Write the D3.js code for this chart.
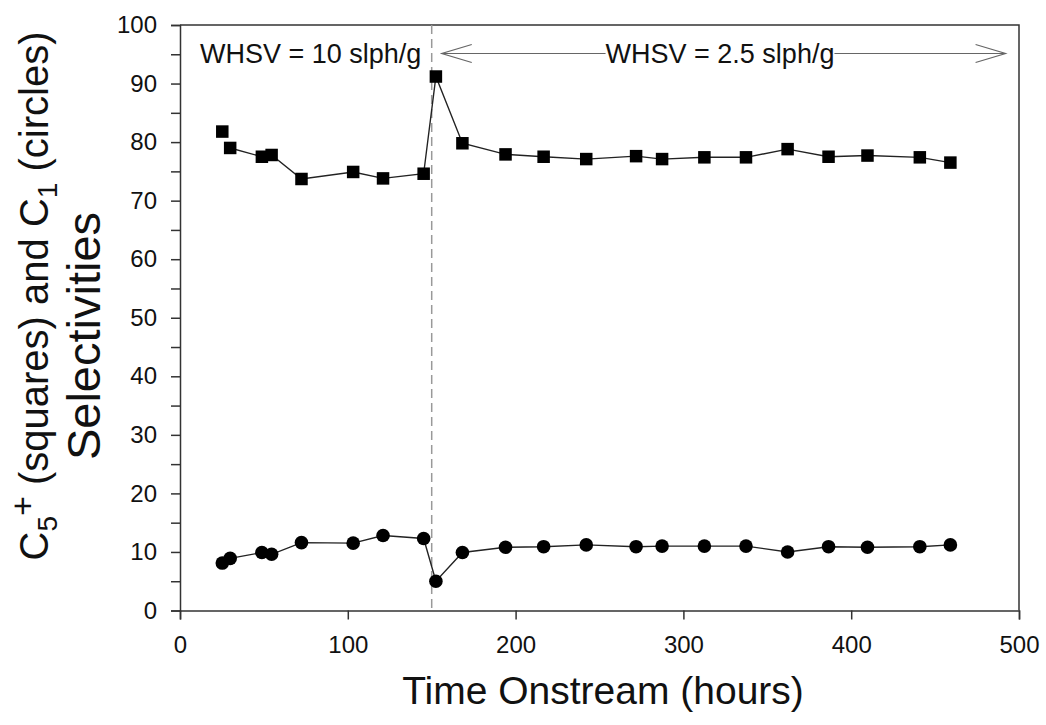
<!DOCTYPE html>
<html>
<head>
<meta charset="utf-8">
<script src="https://cdn.jsdelivr.net/npm/d3@7"></script>
<style>
  body { margin: 0; background: #fff; }
  text { font-family: "Liberation Sans", Arial, sans-serif; fill: #111; }
</style>
</head>
<body>
<div id="chart"></div>
<script>
// data
var hours = [25.2, 29.9, 48.8, 54.6, 72.4, 103.2, 121.0, 145.2, 152.5, 168.3, 194.0, 216.7,
             242.1, 271.8, 287.3, 312.5, 337.3, 362.1, 386.5, 409.7, 440.9, 459.1];
var c5plus = [81.8, 79.0, 77.5, 77.8, 73.7, 74.9, 73.8, 74.6, 91.2, 79.8, 77.9, 77.5,
              77.1, 77.6, 77.1, 77.4, 77.4, 78.8, 77.5, 77.7, 77.4, 76.5];
var c1 = [8.1, 8.9, 9.9, 9.6, 11.6, 11.5, 12.8, 12.3, 5.0, 9.9, 10.8, 10.9,
          11.2, 10.9, 11.0, 11.0, 11.0, 10.0, 10.9, 10.8, 10.9, 11.2];
var xTicks = [0, 100, 200, 300, 400, 500];
var yTicks = [0, 10, 20, 30, 40, 50, 60, 70, 80, 90, 100];
var switchHour = 150;
var labelLow = "WHSV = 10 slph/g";
var labelHigh = "WHSV = 2.5 slph/g";

var margin = {top: 25, right: 27, bottom: 114.5, left: 180},
    width = 1046 - margin.left - margin.right,
    height = 725 - margin.top - margin.bottom;

var svg = d3.select("#chart")
  .append("svg")
    .attr("width", 1046)
    .attr("height", 725);

var g = svg.append("g")
    .attr("transform", "translate(" + margin.left + "," + margin.top + ")");

var x = d3.scaleLinear().domain([0, 500]).range([0, width]);
var y = d3.scaleLinear().domain([0, 100]).range([height, 0]);

// frame (top and right)
g.append("path")
  .attr("d", "M0,0H" + width + "V" + height)
  .attr("fill", "none")
  .attr("stroke", "#333")
  .attr("stroke-width", 1.5);

// y axis with minor ticks
var yMinor = d3.range(5, 100, 10);
g.append("g")
  .call(d3.axisLeft(y).tickValues(yMinor).tickSize(9).tickFormat(""))
  .call(function(s) { s.select(".domain").remove(); })
  .selectAll("line").attr("stroke", "#333").attr("stroke-width", 1.5);

var yAxis = g.append("g")
  .call(d3.axisLeft(y).tickValues(yTicks).tickSize(9).tickPadding(14));
yAxis.select(".domain").attr("stroke", "#333").attr("stroke-width", 1.5);
yAxis.selectAll("line").attr("stroke", "#333").attr("stroke-width", 1.5);
yAxis.selectAll("text").style("font-size", "24px").attr("fill", "#111");

// x axis
var xAxis = g.append("g")
  .attr("transform", "translate(0," + height + ")")
  .call(d3.axisBottom(x).tickValues(xTicks).tickSize(9).tickPadding(16));
xAxis.select(".domain").attr("stroke", "#333").attr("stroke-width", 1.5);
xAxis.selectAll("line").attr("stroke", "#333").attr("stroke-width", 1.5);
xAxis.selectAll("text").style("font-size", "24px").attr("fill", "#111");

// dashed switch line
g.append("line")
  .attr("x1", x(switchHour)).attr("x2", x(switchHour))
  .attr("y1", 0).attr("y2", height)
  .attr("stroke", "#999")
  .attr("stroke-width", 1.5)
  .attr("stroke-dasharray", "9,5");

// annotations
var annBase = 63 - margin.top;
g.append("text")
  .attr("x", 20)
  .attr("y", annBase)
  .style("font-size", "27px")
  .text(labelLow);

var arrowL = x(156), arrowR = x(492);
var hiText = g.append("text")
  .attr("x", 540)
  .attr("y", annBase)
  .attr("text-anchor", "middle")
  .style("font-size", "27px")
  .text(labelHigh);
var bb = hiText.node().getBBox();
var ay = 53.5 - margin.top;
var arrowStroke = "#666";
g.append("line").attr("x1", arrowL).attr("x2", bb.x).attr("y1", ay).attr("y2", ay)
  .attr("stroke", arrowStroke).attr("stroke-width", 1.2);
g.append("line").attr("x1", bb.x + bb.width).attr("x2", arrowR).attr("y1", ay).attr("y2", ay)
  .attr("stroke", arrowStroke).attr("stroke-width", 1.2);
g.append("path")
  .attr("d", "M" + (arrowL + 30) + "," + (ay - 9) + "L" + arrowL + "," + ay + "L" + (arrowL + 30) + "," + (ay + 9))
  .attr("fill", "none").attr("stroke", arrowStroke).attr("stroke-width", 1.2);
g.append("path")
  .attr("d", "M" + (arrowR - 30) + "," + (ay - 9) + "L" + arrowR + "," + ay + "L" + (arrowR - 30) + "," + (ay + 9))
  .attr("fill", "none").attr("stroke", arrowStroke).attr("stroke-width", 1.2);

// lines
var sqData = hours.map(function(h, i) { return {h: h, v: c5plus[i]}; });
var ciData = hours.map(function(h, i) { return {h: h, v: c1[i]}; });
var line = d3.line()
  .x(function(d) { return x(d.h); })
  .y(function(d) { return y(d.v); });

// first two squares are not joined in the picture
g.append("path")
  .datum(sqData.slice(1))
  .attr("fill", "none")
  .attr("stroke", "#222")
  .attr("stroke-width", 1.4)
  .attr("d", line);

g.append("path")
  .datum(ciData)
  .attr("fill", "none")
  .attr("stroke", "#222")
  .attr("stroke-width", 1.4)
  .attr("d", line);

var sq = 12.5;
g.append("g").selectAll("rect")
  .data(sqData)
  .enter()
  .append("rect")
    .attr("x", function(d) { return x(d.h) - sq / 2; })
    .attr("y", function(d) { return y(d.v) - sq / 2; })
    .attr("width", sq)
    .attr("height", sq)
    .attr("fill", "#000");

g.append("g").selectAll("circle")
  .data(ciData)
  .enter()
  .append("circle")
    .attr("cx", function(d) { return x(d.h); })
    .attr("cy", function(d) { return y(d.v); })
    .attr("r", 6.8)
    .attr("fill", "#000");

// axis titles
svg.append("text")
  .attr("x", 603)
  .attr("y", 704)
  .attr("text-anchor", "middle")
  .style("font-size", "39px")
  .text("Time Onstream (hours)");

var yt = svg.append("text")
  .attr("transform", "translate(48,296) rotate(-90)")
  .attr("text-anchor", "middle")
  .style("font-size", "40px");
yt.append("tspan").text("C");
yt.append("tspan").attr("dy", 9).style("font-size", "28px").text("5");
yt.append("tspan").attr("dy", -23).style("font-size", "34px").text("+");
yt.append("tspan").attr("dy", 14).text(" (squares) and C");
yt.append("tspan").attr("dy", 9).style("font-size", "28px").text("1");
yt.append("tspan").attr("dy", -9).text(" (circles)");

svg.append("text")
  .attr("transform", "translate(100,336) rotate(-90)")
  .attr("text-anchor", "middle")
  .style("font-size", "47px")
  .text("Selectivities");
</script>
</body>
</html>
